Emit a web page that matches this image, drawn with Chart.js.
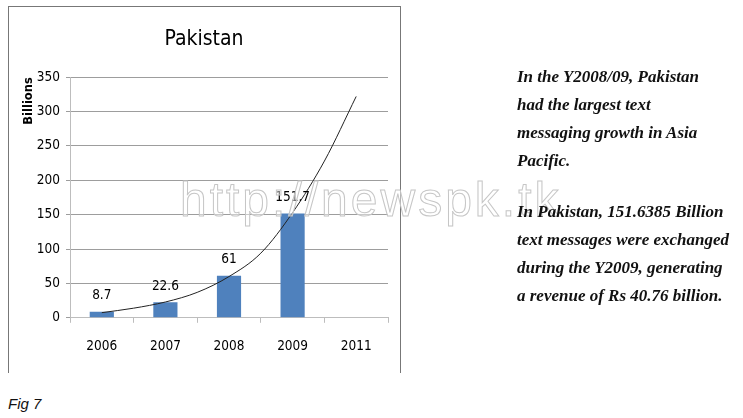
<!DOCTYPE html>
<html>
<head>
<meta charset="utf-8">
<script src="https://cdn.jsdelivr.net/npm/chart.js"></script>
<style>
  body { margin:0; width:743px; height:418px; background:#fff; position:relative; overflow:hidden; }
  #frame { position:absolute; left:8px; top:6px; width:391px; height:366px; border:1px solid #777; border-bottom:none; }
  #wrap { position:absolute; left:9px; top:7px; width:390px; height:365px; }
  #mark { position:absolute; left:180px; top:176px; font:48px/48px 'Liberation Sans', Arial, sans-serif; letter-spacing:3px;
          color:rgba(255,255,255,0.45); -webkit-text-stroke:1px #c6c6c6; white-space:nowrap; }
  .note { position:absolute; left:517px; margin:0; font:bold italic 17px/28px 'Liberation Serif', 'Times New Roman', serif; color:#111; }
  #fig { position:absolute; left:8px; top:396px; font:italic 15px/15px 'Liberation Sans', Arial, sans-serif; color:#111; }
</style>
</head>
<body>
<div id="frame"></div>
<div id="wrap"><canvas id="smsChart"></canvas></div>
<div id="mark">http://newspk.tk</div>
<p class="note" style="top:63px">In the Y2008/09, Pakistan<br>had the largest text<br>messaging growth in Asia<br>Pacific.</p>
<p class="note" style="top:198px">In Pakistan, 151.6385 Billion<br>text messages were exchanged<br>during the Y2009, generating<br>a revenue of Rs 40.76 billion.</p>
<div id="fig">Fig 7</div>
<script>
const years = ['2006', '2007', '2008', '2009', '2011'];
const messages = [8.7, 22.6, 61, 151.7, null]; // billions
// trendline, x in category steps
const trendX = [0, 0.5, 1, 1.5, 2, 2.5, 3, 3.5, 4];
const trendY = [7.5, 14, 23, 37, 60, 94, 153, 228, 322];

const NARROW = "'Liberation Sans Narrow', 'DejaVu Sans Condensed', sans-serif";
const BLUE = '#4F81BD', GRID = '#9d9d9d', AXIS = '#bdbdbd';

const barLabels = {
  id: 'barLabels',
  afterDatasetsDraw(chart) {
    const ctx = chart.ctx;
    const meta = chart.getDatasetMeta(1);
    ctx.save();
    ctx.font = '13.5px ' + NARROW;
    ctx.fillStyle = '#000';
    ctx.textAlign = 'center';
    ctx.textBaseline = 'middle';
    meta.data.forEach((bar, i) => {
      if (messages[i] == null) return;
      ctx.fillText(String(messages[i]), bar.x, bar.y - 16);
    });
    ctx.restore();
  }
};

new Chart(document.getElementById('smsChart'), {
  type: 'bar',
  data: {
    labels: years,
    datasets: [{
      type: 'line',
      data: trendX.map((x, i) => ({ x: x, y: trendY[i] })),
      xAxisID: 'x2',
      borderColor: '#222',
      borderWidth: 1,
      pointRadius: 0,
      tension: 0.4,
      cubicInterpolationMode: 'monotone',
      order: 0
    }, {
      data: messages,
      backgroundColor: BLUE,
      grouped: false,
      categoryPercentage: 1,
      barPercentage: 0.38,
      order: 1
    }]
  },
  options: {
    responsive: true,
    maintainAspectRatio: false,
    animation: false,
    layout: { padding: { left: 11, right: 11, top: 0, bottom: 1 } },
    plugins: {
      legend: { display: false },
      tooltip: { enabled: false },
      title: { display: true, text: 'Pakistan', color: '#000', font: { family: NARROW, size: 21, weight: 'normal' }, padding: { top: 20, bottom: 25 } }
    },
    scales: {
      x: {
        grid: { display: true, drawOnChartArea: false, tickLength: 5, color: AXIS },
        border: { color: AXIS },
        ticks: { color: '#000', padding: 16, font: { family: NARROW, size: 13.5 } }
      },
      x2: { type: 'linear', display: false, offset: false, grid: { offset: false }, min: -0.5, max: 4.5 },
      y: {
        min: 0, max: 350,
        ticks: { stepSize: 50, color: '#000', padding: 6, font: { family: NARROW, size: 13.5 } },
        grid: { color: GRID, tickLength: 4 },
        border: { color: AXIS },
        title: { display: true, text: 'Billions', align: 'end', color: '#000', font: { family: "'DejaVu Sans', sans-serif", size: 11.5, weight: 'bold' }, padding: { top: 2, bottom: 0 } },
        afterFit(s) { s.width = 50; }
      }
    }
  },
  plugins: [barLabels]
});
</script>
</body>
</html>
